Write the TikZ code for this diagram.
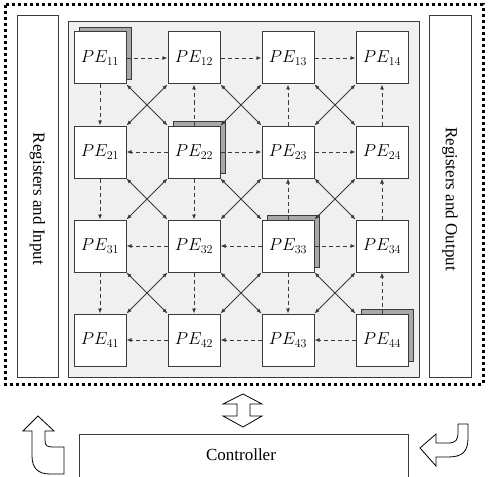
\documentclass[tikz,border=0pt]{standalone}
\usepackage{fontspec}
\setmainfont{Liberation Serif}
\usetikzlibrary{arrows.meta}
\definecolor{edge}{HTML}{3A3A3A}
\definecolor{panel}{HTML}{F0F0F0}
\definecolor{shade}{HTML}{A8A8A8}
\tikzset{
  pe/.style={draw=edge,line width=1pt,fill=white,minimum size=52pt,inner sep=0pt,font=\fontsize{17}{20}\selectfont},
  shadowbox/.style={draw=edge,line width=0.8pt,fill=shade},
  dasharr/.style={draw=edge,line width=0.8pt,dash pattern=on 4pt off 3pt,-{Latex[length=5pt,width=4pt]}},
  diag/.style={draw=edge,line width=0.9pt,{Latex[length=5pt,width=4pt]}-{Latex[length=5pt,width=4pt]}},
  sidebox/.style={draw=edge,line width=1pt,fill=white},
  sidetext/.style={rotate=-90,font=\fontsize{17}{20}\selectfont},
  hollow/.style={draw=black,line width=0.8pt,fill=white,line join=miter}
}
\begin{document}
\begin{tikzpicture}[x=1pt,y=-1pt]
\useasboundingbox (0,0) rectangle (489,476);
% dotted outer frame
\draw[line width=3pt,dash pattern=on 3pt off 3pt] (5,5) rectangle (483,384);
% side boxes
\draw[sidebox] (17,16) rectangle (58,377);
\node[sidetext] (regin) at (37.5,199) {Registers and Input};
\draw[sidebox] (429,16) rectangle (471,377);
\node[sidetext] (regout) at (450,199) {Registers and Output};
% panel
\draw[draw=edge,line width=1pt,fill=panel] (68,22) rectangle (419,377);
% shadows
\foreach \cx/\cy in {100/58,194/152,288/246,382/340}{
  \draw[shadowbox] (\cx-26+5.5,\cy-26-5) rectangle (\cx+26+5.5,\cy+26-5);
}
% PE nodes
\foreach \r/\cy in {1/58,2/152,3/246,4/340}{
  \foreach \c/\cx in {1/100,2/194,3/288,4/382}{
    \node[pe] (pe\r\c) at (\cx,\cy) {$PE_{\r\c}$};
  }
}
% horizontal dashed arrows
\draw[dasharr] (pe11) -- (pe12);
\draw[dasharr] (pe12) -- (pe13);
\draw[dasharr] (pe13) -- (pe14);
\draw[dasharr] (pe22) -- (pe21);
\draw[dasharr] (pe22) -- (pe23);
\draw[dasharr] (pe23) -- (pe24);
\draw[dasharr] (pe32) -- (pe31);
\draw[dasharr] (pe33) -- (pe32);
\draw[dasharr] (pe33) -- (pe34);
\draw[dasharr] (pe42) -- (pe41);
\draw[dasharr] (pe43) -- (pe42);
\draw[dasharr] (pe44) -- (pe43);
% vertical dashed arrows
\draw[dasharr] (pe11) -- (pe21);
\draw[dasharr] (pe21) -- (pe31);
\draw[dasharr] (pe31) -- (pe41);
\draw[dasharr] (pe22) -- (pe12);
\draw[dasharr] (pe22) -- (pe32);
\draw[dasharr] (pe32) -- (pe42);
\draw[dasharr] (pe23) -- (pe13);
\draw[dasharr] (pe33) -- (pe23);
\draw[dasharr] (pe33) -- (pe43);
\draw[dasharr] (pe24) -- (pe14);
\draw[dasharr] (pe34) -- (pe24);
\draw[dasharr] (pe44) -- (pe34);
% diagonals
\foreach \r/\rn in {1/2,2/3,3/4}{
  \foreach \c/\cn in {1/2,2/3,3/4}{
    \draw[diag] (pe\r\c.south east) -- (pe\rn\cn.north west);
    \draw[diag] (pe\r\cn.south west) -- (pe\rn\c.north east);
  }
}
% controller
\draw[draw=edge,line width=1pt] (79,480) -- (79,434) -- (408,434) -- (408,480);
\node[font=\fontsize{17}{20}\selectfont] (ctrl) at (241,455) {Controller};
% hollow arrows
\draw[hollow] (243,394) -- (262,404) -- (250,404) -- (250,416) -- (262,416) -- (243,427)
  -- (223,416) -- (237,416) -- (237,404) -- (223,404) -- cycle;
\draw[hollow] (38,416) -- (54,431) -- (45,431) -- (45,440) .. controls (45,446) and (47,447) .. (53,447)
  -- (64,447) -- (64,474) -- (50,474) .. controls (38,474) and (32,468) .. (32,456) -- (32,431) -- (23,431) -- cycle;
\draw[hollow] (420,448) -- (436,434) -- (436,443) -- (448,443) .. controls (456,443) and (458,440) .. (458,432)
  -- (458,424) -- (468,424) -- (468,438) .. controls (468,452) and (462,457) .. (448,457) -- (436,457) -- (436,466) -- cycle;
\end{tikzpicture}
\end{document}
